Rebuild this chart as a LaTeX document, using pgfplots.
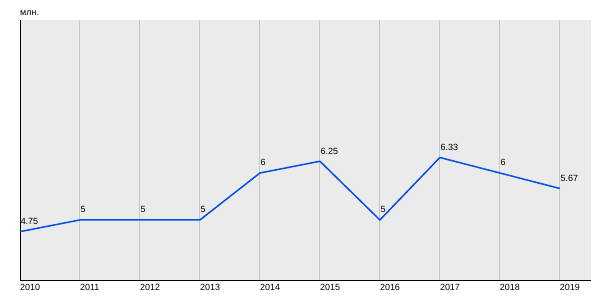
\documentclass[border=0pt]{standalone}
\usepackage{pgfplots}
\pgfplotsset{compat=1.18}
\usepackage{pgfplotstable}
\usepackage{fontspec}
\setmainfont{Liberation Sans}
\definecolor{bgc}{HTML}{EBEBEB}
\definecolor{gridc}{HTML}{C8C8C8}
\definecolor{linec}{HTML}{0050E6}
\pgfplotstableread{
year val lab
2010 4.75 4.75
2011 5 5
2012 5 5
2013 5 5
2014 6 6
2015 6.25 6.25
2016 5 5
2017 6.33 6.33
2018 6 6
2019 5.67 5.67
}\data
\begin{document}
\begin{tikzpicture}[x=1bp,y=1bp]
\path[use as bounding box] (0,0) rectangle (600,300);
\begin{axis}[
  at={(20bp,20bp)}, anchor=south west,
  scale only axis, width=571bp, height=260bp,
  xmin=2010, xmax=2019.52,
  ymin=3.72, ymax=9.26,
  axis background/.style={fill=bgc},
  axis x line*=bottom, axis y line*=left,
  axis line style={black, line width=1bp, -},
  xtick={2010,...,2019},
  xticklabel style={anchor=north west, inner xsep=0pt, inner ysep=0pt, yshift=-4bp, font=\fontsize{9}{10}\selectfont},
  /pgf/number format/assume math mode=true,
  /pgf/number format/set thousands separator={},
  ytick=\empty,
  major tick length=0pt,
  xmajorgrids, grid style={gridc, line width=1bp},
  clip=false,
  nodes near coords,
  point meta=explicit symbolic,
  every node near coord/.append style={anchor=base west, inner sep=0pt, yshift=7bp, font=\fontsize{9}{10}\selectfont, black},
]
\addplot[linec, line width=1.5bp, mark=none] table[x=year, y=val, meta=lab] {\data};
\node[anchor=base west, inner sep=0pt, font=\fontsize{9}{10}\selectfont] at (rel axis cs:0,1) [yshift=4.5bp] {млн.};
\end{axis}
\end{tikzpicture}
\end{document}
